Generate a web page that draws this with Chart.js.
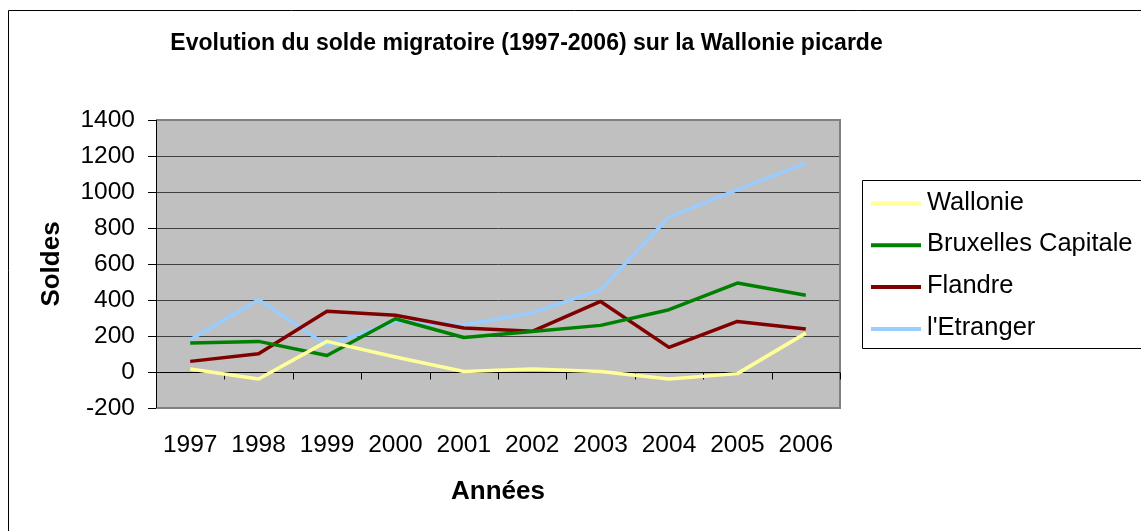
<!DOCTYPE html>
<html>
<head>
<meta charset="utf-8">
<title>Evolution du solde migratoire</title>
<script src="https://cdn.jsdelivr.net/npm/chart.js@4.4.1/dist/chart.umd.min.js"></script>
<style>
    html, body { margin: 0; padding: 0; background: #ffffff; }
    #wrap { width: 1141px; height: 531px; position: relative; }
</style>
</head>
<body>
<div id="wrap">
    <canvas id="solde-chart" width="1141" height="531"></canvas>
</div>
<script>
// Data
const years = ['1997', '1998', '1999', '2000', '2001', '2002', '2003', '2004', '2005', '2006'];
const wallonie = [17, -39, 170, 83, 3, 17, 3, -39, -9, 216];
const bruxelles = [161, 170, 92, 296, 192, 225, 259, 346, 494, 426];
const flandre = [59, 102, 337, 315, 244, 226, 392, 137, 281, 239];
const etranger = [179, 402, 148, 281, 263, 328, 457, 861, 1013, 1161];

const seriesNames = ['Wallonie', 'Bruxelles Capitale', 'Flandre', "l'Etranger"];
const seriesColors = ['#ffff99', '#008000', '#800000', '#99ccff'];

const chartTitle = 'Evolution du solde migratoire (1997-2006) sur la Wallonie picarde';
const yTitle = 'Soldes';
const xTitle = 'Années';

const FONT = "'Liberation Sans', Arial, sans-serif";

// Excel-like decorations: frame, plot background, border, zero axis, title, legend
const excelLook = {
    id: 'excelLook',
    beforeDraw(chart) {
        const {ctx, chartArea: a} = chart;
        ctx.save();
        ctx.fillStyle = '#c0c0c0';
        ctx.fillRect(a.left, a.top, a.right - a.left, a.bottom - a.top);
        // outer frame
        ctx.strokeStyle = '#000';
        ctx.lineWidth = 1;
        ctx.beginPath();
        ctx.moveTo(8.5, 531);
        ctx.lineTo(8.5, 10.5);
        ctx.lineTo(1141, 10.5);
        ctx.stroke();
        ctx.restore();
    },
    beforeDatasetsDraw(chart) {
        const {ctx, chartArea: a, scales} = chart;
        ctx.save();
        // gray plot border (top, right, bottom)
        ctx.strokeStyle = '#808080';
        ctx.lineWidth = 2;
        ctx.beginPath();
        ctx.moveTo(a.left, a.top);
        ctx.lineTo(a.right, a.top);
        ctx.lineTo(a.right, a.bottom);
        ctx.lineTo(a.left, a.bottom);
        ctx.stroke();
        // category axis crossing at 0
        const y0 = Math.round(scales.y.getPixelForValue(0)) + 0.5;
        ctx.strokeStyle = '#000';
        ctx.lineWidth = 1;
        ctx.beginPath();
        ctx.moveTo(a.left, y0);
        ctx.lineTo(a.right, y0);
        const step = (a.right - a.left) / years.length;
        for (let i = 1; i <= years.length; i++) {
            const x = Math.round(scales.x.getPixelForValue(i - 1) + step / 2) + 0.5;
            ctx.moveTo(x, y0);
            ctx.lineTo(x, y0 + 7);
        }
        ctx.stroke();
        // left axis line
        ctx.beginPath();
        ctx.moveTo(a.left + 0.5, a.top);
        ctx.lineTo(a.left + 0.5, a.bottom);
        ctx.stroke();
        ctx.restore();
    },
    afterDraw(chart) {
        const {ctx} = chart;
        ctx.save();
        // title
        ctx.fillStyle = '#000';
        ctx.font = 'bold 23px ' + FONT;
        ctx.textAlign = 'center';
        ctx.textBaseline = 'alphabetic';
        ctx.fillText(chartTitle, 526.5, 50);
        // legend box
        ctx.strokeStyle = '#000';
        ctx.lineWidth = 1;
        ctx.beginPath();
        ctx.moveTo(1141, 180.5);
        ctx.lineTo(862.5, 180.5);
        ctx.lineTo(862.5, 348.5);
        ctx.lineTo(1141, 348.5);
        ctx.stroke();
        ctx.font = '25.5px ' + FONT;
        ctx.textAlign = 'left';
        ctx.textBaseline = 'middle';
        chart.data.datasets.forEach((ds, i) => {
            const y = 203.5 + i * 41.8;
            ctx.strokeStyle = ds.borderColor;
            ctx.lineWidth = 4;
            ctx.beginPath();
            ctx.moveTo(871, y);
            ctx.lineTo(921, y);
            ctx.stroke();
            ctx.fillStyle = '#000';
            ctx.fillText(ds.label, 927, y - 1);
        });
        ctx.restore();
    }
};

const seriesData = [wallonie, bruxelles, flandre, etranger];

new Chart(document.getElementById('solde-chart'), {
    type: 'line',
    data: {
        labels: years,
        datasets: seriesData.map((values, i) => ({
            label: seriesNames[i],
            data: values,
            borderColor: seriesColors[i],
            backgroundColor: seriesColors[i],
            borderWidth: 3.5,
            borderJoinStyle: 'round',
            pointRadius: 0,
            tension: 0,
            fill: false
        }))
    },
    options: {
        responsive: false,
        animation: false,
        devicePixelRatio: 1,
        layout: {
            padding: { top: 120, right: 301, bottom: 0, left: 0 }
        },
        plugins: {
            legend: { display: false },
            title: { display: false },
            tooltip: { enabled: false }
        },
        scales: {
            x: {
                type: 'category',
                offset: true,
                grid: { display: false, drawTicks: false },
                border: { display: false },
                ticks: {
                    color: '#000',
                    padding: 23,
                    maxRotation: 0,
                    autoSkip: false,
                    font: { family: FONT, size: 24.5 }
                },
                title: {
                    display: true,
                    text: xTitle,
                    color: '#000',
                    padding: { top: 0, bottom: 24 },
                    font: { family: FONT, size: 26, weight: 'bold' }
                },
                afterFit(scale) {
                    scale.height = 123;
                }
            },
            y: {
                min: -200,
                max: 1400,
                grid: {
                    color: (c) => (c.tick && c.tick.value === 0 ? '#000' : '#404040'),
                    tickColor: '#000',
                    tickLength: 8,
                    lineWidth: 1
                },
                border: { display: true, color: '#000', width: 1 },
                ticks: {
                    stepSize: 200,
                    color: '#000',
                    padding: 13,
                    font: { family: FONT, size: 24.5 },
                    callback: (value) => String(value)
                },
                title: {
                    display: true,
                    text: yTitle,
                    color: '#000',
                    padding: { top: 36, bottom: 0 },
                    font: { family: FONT, size: 26, weight: 'bold' }
                },
                afterFit(scale) {
                    scale.width = 156;
                }
            }
        }
    },
    plugins: [excelLook]
});
</script>
</body>
</html>
